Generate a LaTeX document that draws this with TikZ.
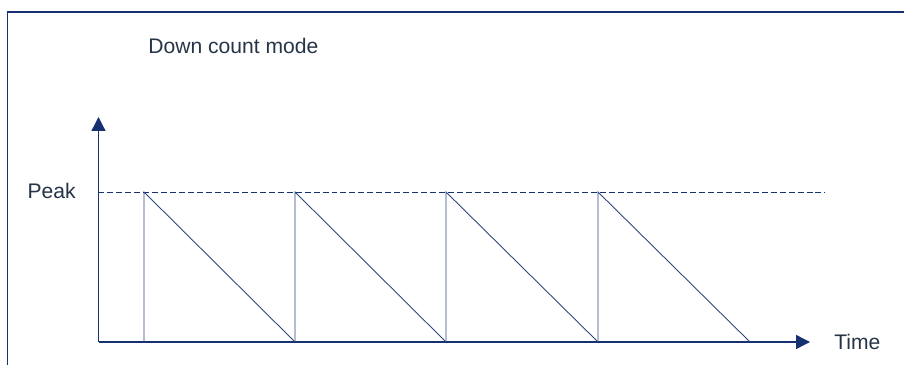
\documentclass[tikz,border=0pt]{standalone}
\usepackage{fontspec}
\setmainfont{Liberation Sans}
\usepackage{pgf,tikz}
\usetikzlibrary{arrows.meta}
\usetikzlibrary{positioning,calc}
\definecolor{lineblue}{RGB}{22,48,112}
\definecolor{textgrey}{RGB}{38,52,72}
\tikzset{axis line/.style={lineblue, line width=0.75pt, -{Triangle[length=0.28cm,width=0.28cm]}}, saw line/.style={lineblue!90!white, line width=0.5pt}, peak line/.style={lineblue, line width=0.5pt, dash pattern=on 3.4pt off 1.7pt}, label text/.style={textgrey, font=\fontsize{12}{14}\selectfont, inner sep=0pt}}

\begin{document}
\begin{tikzpicture}%[scale=0.75]
\useasboundingbox (0,0) rectangle (18.08,7.3);
\draw[lineblue, line width=0.6pt] (0.15,0) -- (0.15,7.06) -- (18.08,7.06);
\coordinate (origin) at (1.97,0.46);
\coordinate (ytip) at (1.97,4.96);
\coordinate (xtip) at (16.2,0.46);
\coordinate (peakstart) at (1.97,3.46);
\coordinate (peakend) at (16.5,3.46);
\node[label text, anchor=west] (title) at (2.96,6.38) {Down count mode};
\node[label text, anchor=east] (peak) at (1.52,3.48) {Peak};
\node[label text, anchor=west] (time) at (16.68,0.46) {Time};
\draw[axis line] (origin) -- (ytip);
\draw[axis line] (origin) -- (xtip);
\draw[peak line] (peakstart) -- (peakend);
% saw teeth
\foreach \xa/\xb in {2.88/5.9, 5.9/8.92, 8.92/11.96, 11.96/15.0}{
\coordinate (bot) at (\xa,0.46);
\coordinate (top) at (\xa,3.46);
\coordinate (end) at (\xb,0.46);
\draw[saw line] (bot) -- (top) -- (end);
}
%\draw[saw line] (15.0,0.46) -- (15.0,3.46);
\end{tikzpicture}
\end{document}
